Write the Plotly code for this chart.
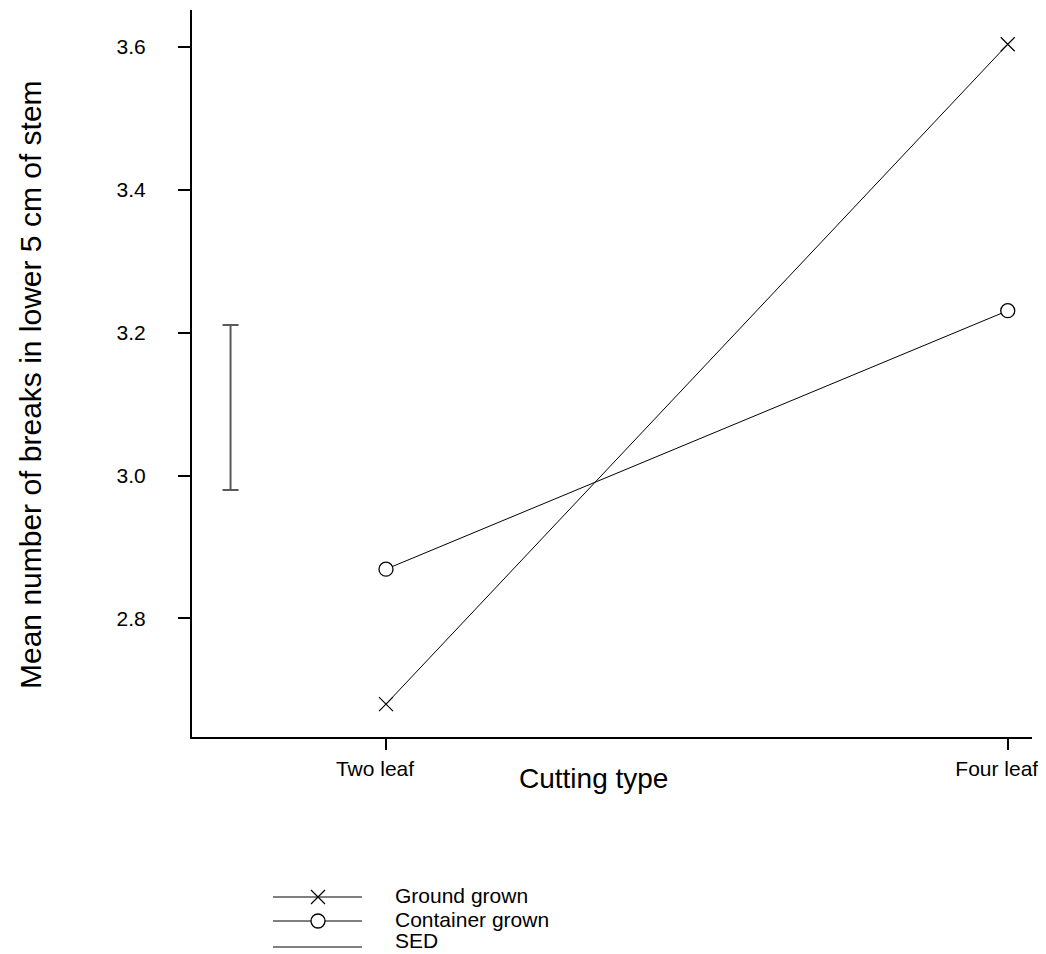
import plotly.graph_objects as go

categories = ["Two leaf", "Four leaf"]
cat_pos = [0, 1]
ground_grown = [2.680, 3.604]
container_grown = [2.869, 3.231]
sed_x = [-0.25]
sed_low = 2.980
sed_high = 3.211
y_ticks = [2.8, 3.0, 3.2, 3.4, 3.6]
legend_names = ["Ground grown", "Container grown", "SED"]

FONT = "Arial, Liberation Sans, sans-serif"
OFF = 8  # page body margin
SCREEN_W, SCREEN_H = 1046, 954
W, H = SCREEN_W - OFF, SCREEN_H - OFF
# screen-space layout (pixels)
plot_left, plot_right, plot_top, plot_bottom = 192, 1032, 10, 737
ML, MR, MT, MB = 0, 0, 0, 0
pw = W - ML - MR
ph = H - MT - MB

def fx(px):
    return px - OFF

def fy(py):
    return py - OFF

fig = go.Figure()

fig.add_trace(go.Scatter(
    x=cat_pos, y=ground_grown, mode="lines+markers",
    line=dict(color="black", width=1),
    marker=dict(symbol="x-thin", size=14, line=dict(color="black", width=1.2)),
    showlegend=False))
fig.add_trace(go.Scatter(
    x=cat_pos, y=container_grown, mode="lines+markers",
    line=dict(color="black", width=1),
    marker=dict(symbol="circle", size=14, color="white", line=dict(color="black", width=1.3)),
    showlegend=False))

sed_mid = (sed_low + sed_high) / 2
sed_half = (sed_high - sed_low) / 2
fig.add_trace(go.Scatter(
    x=sed_x, y=[sed_mid], mode="markers",
    marker=dict(size=0.1, color="rgba(0,0,0,0)"),
    error_y=dict(type="data", array=[sed_half], color="#5a5a5a", thickness=2, width=8),
    showlegend=False))

# legend (drawn in pixel-like overlay axes)
leg_x0, leg_x1, leg_xm, leg_tx = 273, 362, 318, 393
leg_y = [897, 921, 947]
leg_text_y = [895, 919, 940]
for yy in leg_y:
    fig.add_shape(type="line", xref="x2", yref="y2", x0=fx(leg_x0), x1=fx(leg_x1), y0=fy(yy), y1=fy(yy),
                  line=dict(color="black", width=1), layer="below")
fig.add_trace(go.Scatter(
    x=[fx(leg_xm)], y=[fy(leg_y[0])], xaxis="x2", yaxis="y2", mode="markers",
    marker=dict(symbol="x-thin", size=14, line=dict(color="black", width=1.2)),
    showlegend=False, hoverinfo="skip"))
fig.add_trace(go.Scatter(
    x=[fx(leg_xm)], y=[fy(leg_y[1])], xaxis="x2", yaxis="y2", mode="markers",
    marker=dict(symbol="circle", size=14, color="white", line=dict(color="black", width=1.3)),
    showlegend=False, hoverinfo="skip"))
for name, yy in zip(legend_names, leg_text_y):
    fig.add_annotation(xref="x2", yref="y2", x=fx(leg_tx), y=fy(yy), text=name, showarrow=False,
                       xanchor="left", yanchor="middle", font=dict(size=21, family=FONT, color="black"))

# axis titles
fig.add_annotation(xref="x2", yref="y2", x=fx(593), y=fy(778), text="Cutting type", showarrow=False,
                   xanchor="center", yanchor="middle", font=dict(size=28, family=FONT, color="black"))
fig.add_annotation(xref="x2", yref="y2", x=fx(30), y=fy(385), text="Mean number of breaks in lower 5 cm of stem",
                   showarrow=False, textangle=-90, xanchor="center", yanchor="middle",
                   font=dict(size=30, family=FONT, color="black"))

fig.update_layout(
    width=W, height=H,
    margin=dict(l=ML, r=MR, t=MT, b=MB, autoexpand=False),
    paper_bgcolor="white", plot_bgcolor="rgba(0,0,0,0)",
    font=dict(family=FONT, color="black"),
    xaxis=dict(domain=[fx(plot_left) / pw, fx(plot_right) / pw], range=[-0.312, 1.039],
               tickvals=cat_pos, ticktext=categories, ticks="outside", ticklen=11, tickwidth=2,
               tickcolor="black", showline=True, linecolor="black", linewidth=2,
               showgrid=False, zeroline=False, tickfont=dict(size=21), ticklabelstandoff=1,
               ticklabelshift=-11, anchor="y"),
    yaxis=dict(domain=[(H - fy(plot_bottom)) / ph, (H - fy(plot_top)) / ph], range=[2.634, 3.652],
               tickvals=y_ticks, tickformat=".1f", ticks="outside", ticklen=12, tickwidth=2,
               tickcolor="black", showline=True, linecolor="black", linewidth=2,
               showgrid=False, zeroline=False, tickfont=dict(size=21), ticklabelstandoff=28,
               anchor="x"),
    xaxis2=dict(domain=[0, 1], range=[0, W], visible=False, anchor="y2", fixedrange=True),
    yaxis2=dict(domain=[0, 1], range=[H, 0], visible=False, anchor="x2", fixedrange=True),
)

fig.write_html("out.html")
